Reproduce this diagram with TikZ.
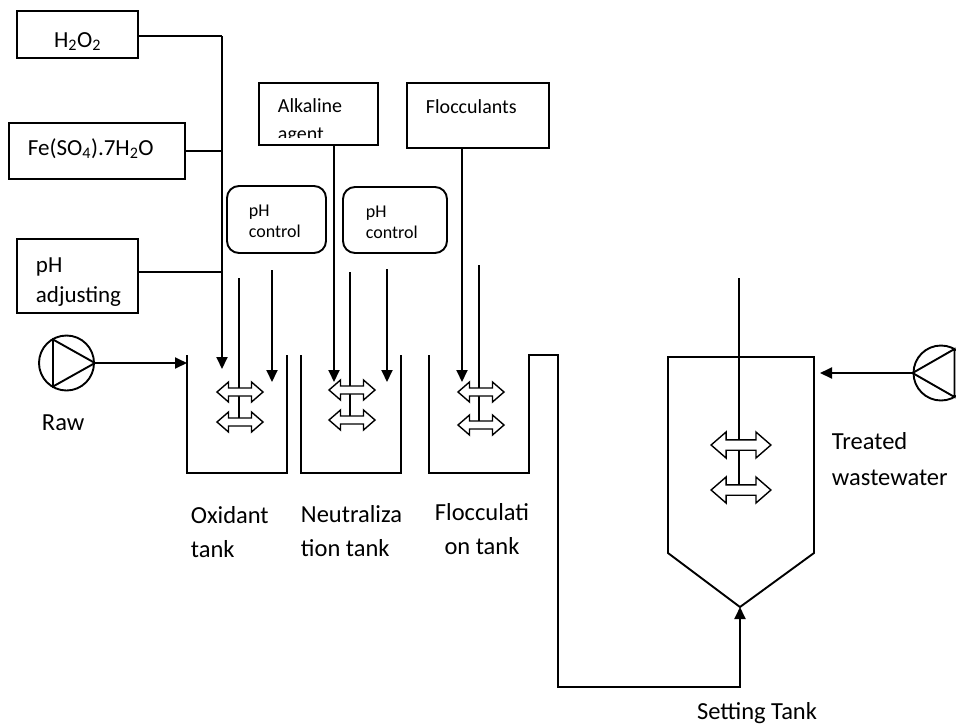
\documentclass[tikz,border=0pt]{standalone}
\usepackage{fontspec}
\setmainfont{Carlito}
\usetikzlibrary{arrows.meta}
\begin{document}
\begin{tikzpicture}[x=1pt,y=-1pt,line width=1.9pt,line join=miter,
  box/.style={draw,rectangle,inner sep=0pt},
  rbox/.style={draw,rectangle,rounded corners=12pt,inner sep=0pt},
  txt/.style={inner sep=0pt,anchor=base west,align=left},
  big/.style={font=\fontsize{24.5}{34}\selectfont},
  mid/.style={font=\fontsize{23}{30}\selectfont},
  sml/.style={font=\fontsize{20}{28}\selectfont},
  tiny/.style={font=\fontsize{18}{21}\selectfont},
  feed/.style={-{Triangle[length=12pt,width=11pt]}},
  imp/.pic={\filldraw[fill=white,line width=1.4pt]
     (-23,0) -- (-11.5,-10) -- (-11.5,-4) -- (11.5,-4) -- (11.5,-10) -- (23,0)
     -- (11.5,10) -- (11.5,4) -- (-11.5,4) -- (-11.5,10) -- cycle;},
  pump/.style={draw,circle,minimum size=55pt,inner sep=0pt}]
\useasboundingbox (0,0) rectangle (956,724);

% chemical boxes
\node[box,minimum width=121pt,minimum height=47pt] (h2o2) at (77.5,34.5) {};
\node[txt,mid,anchor=base] (h2o2t) at (77.5,47) {H\textsubscript{2}O\textsubscript{2}};
\node[box,minimum width=176pt,minimum height=56pt] (fe) at (97,151) {};
\node[txt,mid] (fet) at (27,155) {Fe(SO\textsubscript{4}).7H\textsubscript{2}O};
\node[box,minimum width=121pt,minimum height=74pt] (phadj) at (77.5,276) {};
\node[txt,mid] (phadjt) at (35,302) {pH\\adjusting};
\node[box,minimum width=119pt,minimum height=62pt] (alk) at (318.5,114) {};
\begin{scope}
  \clip (260,84) rectangle (377,137);
  \node[txt,sml] (alkt) at (277,140) {Alkaline\\agent};
\end{scope}
\node[box,minimum width=142pt,minimum height=65pt] (floc) at (478,115.5) {};
\node[txt,sml] (floct) at (425,113) {Flocculants};
\node[rbox,minimum width=99pt,minimum height=67pt] (phc1) at (276.5,219.5) {};
\node[txt,tiny] (phc1t) at (248,237) {pH\\control};
\node[rbox,minimum width=104pt,minimum height=66pt] (phc2) at (395,220) {};
\node[txt,tiny] (phc2t) at (365,238) {pH\\control};

% oxidant feed line
\coordinate (jtop) at (222,36);
\coordinate (oxin) at (222,369);
\draw (h2o2.east |- jtop) -- (jtop);
\draw[feed] (jtop) -- (oxin);
\draw (fe.east) -- (fe.east -| jtop);
\draw ([yshift=4pt]phadj.east) -- ([yshift=4pt]phadj.east -| jtop);

% alkaline and flocculant feeds
\coordinate (alkout) at (334,145);
\coordinate (neuin) at (334,382);
\draw[feed] (alkout) -- (neuin);
\coordinate (flocout) at (462,148);
\coordinate (flocin) at (462,382);
\draw[feed] (flocout) -- (flocin);

% tanks
\draw (187,355) -- (187,473) -- (287,473) -- (287,355);
\draw (301,355) -- (301,473) -- (401,473) -- (401,355);
\coordinate (cone) at (740,607);
\draw (668,357) -- (668,553) -- (cone) -- (814,553) -- (814,357) -- cycle;
\draw[feed] (429,355) -- (429,473) -- (529,473) -- (529,355) -- (558,355)
   -- (558,687) -- (740,687) -- (cone);

% oxidant tank mixer and pH control dosing
\draw (239,278) -- (239,422);
\draw[feed] (272,270) -- (272,382);
\pic at (240,392) {imp};
\pic at (240,422) {imp};
% neutralization
\draw (350,272) -- (350,420);
\draw[feed] (387,269) -- (387,382);
\pic at (352,390) {imp};
\pic at (352,420) {imp};
% flocculation
\draw (479,265) -- (479,425);
\pic at (481,392) {imp};
\pic at (481,425) {imp};
% settling tank mixer
\draw (739,278) -- (739,490);
\pic[scale=1.3] at (741,445) {imp};
\pic[scale=1.3] at (741,490) {imp};

% pumps
\node[pump] (rawp) at (66.5,363) {};
\draw (53,339.5) -- (53,386.5) -- (rawp.east) -- cycle;
\coordinate (oxwall) at (187,363);
\draw[feed] (rawp.east) -- (oxwall);
\node[pump] (trp) at (941,373) {};
\draw (954.5,349) -- (954.5,397) -- (trp.west) -- cycle;
\coordinate (stwall) at (820,373);
\draw[feed] (trp.west) -- (stwall);

% labels
\node[txt,big] (rawl) at (41,430) {Raw};
\node[txt,big] (oxl) at (190,557) {Oxidant\\tank};
\node[txt,big] (neul) at (300,556) {Neutraliza\\tion tank};
\node[txt,big,align=center,anchor=base] (flol) at (482,554) {Flocculati\\on tank};
\node[txt,big,font=\fontsize{24.5}{36}\selectfont] (trl) at (831,485) {Treated\\wastewater};
\node[txt,big,anchor=base] (stl) at (757,719) {Setting Tank};
\end{tikzpicture}
\end{document}
